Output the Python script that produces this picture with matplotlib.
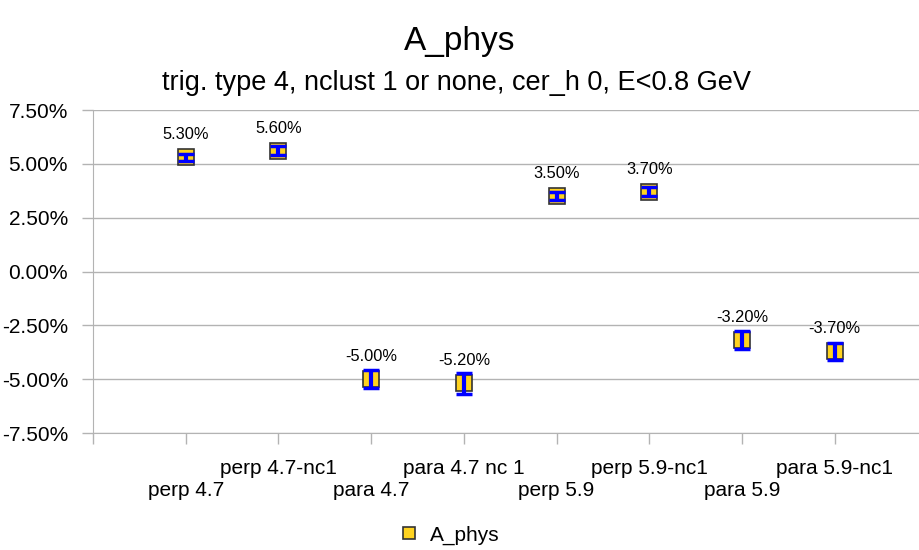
import matplotlib
matplotlib.use("Agg")
import matplotlib.pyplot as plt
import numpy as np
from matplotlib.ticker import FuncFormatter, FixedLocator

plt.rcParams['font.family'] = ['Liberation Sans', 'DejaVu Sans']

# data (percent)
categories = ["perp 4.7", "perp 4.7-nc1", "para 4.7", "para 4.7 nc 1",
              "perp 5.9", "perp 5.9-nc1", "para 5.9", "para 5.9-nc1"]
a_phys = [5.30, 5.60, -5.00, -5.20, 3.50, 3.70, -3.20, -3.70]
a_err = [0.16, 0.21, 0.42, 0.51, 0.19, 0.21, 0.42, 0.40]
y_ticks = [-7.5, -5.0, -2.5, 0.0, 2.5, 5.0, 7.5]

gold = "#ffd320"
blue = "#0000ff"
grid_c = "#b3b3b3"

fig = plt.figure(figsize=(9.19, 5.5), dpi=100)
ax = fig.add_axes([0.1012, 0.2127, 0.8988, 0.5873])

x = np.arange(1, len(categories) + 1)

ax.plot(x, a_phys, linestyle="none", marker="s", markersize=11.5,
        markerfacecolor=gold, markeredgecolor="#333333", markeredgewidth=1.2,
        zorder=3, label="A_phys")
ax.errorbar(x, a_phys, yerr=a_err, fmt="none", ecolor=blue, elinewidth=3,
            capsize=5.6, capthick=2.5, zorder=4)

for xi, v in zip(x, a_phys):
    ax.annotate(f"{v:.2f}%", (xi, v), xytext=(0, 11), textcoords="offset points",
                ha="center", va="bottom", fontsize=11.8)

ax.set_ylim(-7.5, 7.5)
ax.set_xlim(0, 8.91)
ax.yaxis.set_major_locator(FixedLocator(y_ticks))
ax.yaxis.set_major_formatter(FuncFormatter(lambda v, p: f"{v:.2f}%"))
ax.grid(axis="y", color=grid_c, linewidth=1)
ax.set_axisbelow(True)

# staggered category labels
labels = []
for i, c in enumerate(categories):
    labels.append(c + "\n" if i % 2 == 1 else "\n" + c)
ax.set_xticks(list(range(0, len(categories) + 1)))
ax.set_xticklabels([""] + labels)

ax.tick_params(axis="both", colors=grid_c, labelcolor="black", labelsize=15,
               length=8, width=1)
ax.tick_params(axis="x", pad=10.5)
ax.tick_params(axis="y", pad=10)
for lab in ax.get_xticklabels():
    lab.set_linespacing(1.25)

for s in ["top", "right"]:
    ax.spines[s].set_visible(False)
for s in ["left", "bottom"]:
    ax.spines[s].set_color(grid_c)

fig.text(0.5, 0.924, "A_phys", ha="center", va="center", fontsize=24)
fig.text(0.497, 0.849, "trig. type 4, nclust 1 or none, cer_h 0, E<0.8 GeV",
         ha="center", va="center", fontsize=19.5)

h, l = ax.get_legend_handles_labels()
leg = fig.legend(h, l, loc="center", bbox_to_anchor=(0.489, 0.027), frameon=False,
                 fontsize=15, handlelength=1.0, handletextpad=0.5, markerscale=0.8)

fig.savefig("out.png", dpi=100)
